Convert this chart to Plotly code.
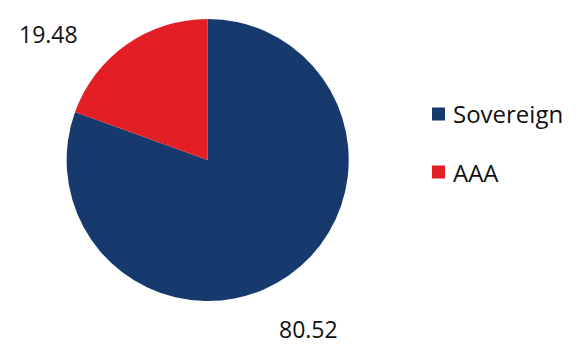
import plotly.graph_objects as go

categories = ["Sovereign", "AAA"]
values = [80.52, 19.48]
colors = ["#173a6e", "#e31e24"]

FONT = "Open Sans"
W, H = 585, 358

# pie geometry (paper fractions)
dom_x = [0.113, 0.597]
dom_y = [0.159, 0.947]

fig = go.Figure(go.Pie(
    labels=categories, values=values, sort=False, direction="clockwise",
    rotation=0, marker=dict(colors=colors, line=dict(width=0)),
    textinfo="none", hoverinfo="label+value", showlegend=False,
    domain=dict(x=dom_x, y=dom_y),
))

annotations = []
shapes = []
# value labels (pixel positions of label centres)
label_pos = [(308, 329), (49, 34)]
for v, (px, py) in zip(values, label_pos):
    annotations.append(dict(x=px / W, y=1 - py / H, xref="paper", yref="paper",
                            text=f"{v:.2f}", showarrow=False,
                            font=dict(family=FONT, size=23, color="#111111"),
                            xanchor="center", yanchor="middle"))

# manual legend
leg_x = 432
leg_y = [114, 172]
for i, name in enumerate(categories):
    shapes.append(dict(type="rect", xref="paper", yref="paper",
                       x0=leg_x / W, x1=(leg_x + 13) / W,
                       y0=1 - (leg_y[i] + 6.5) / H, y1=1 - (leg_y[i] - 6.5) / H,
                       fillcolor=colors[i], line=dict(width=0)))
    annotations.append(dict(x=(leg_x + 19) / W, y=1 - leg_y[i] / H, xref="paper", yref="paper",
                            text=name, showarrow=False, xanchor="left", yanchor="middle",
                            font=dict(family=FONT, size=24, color="#111111")))

fig.update_layout(
    width=W, height=H, margin=dict(l=0, r=0, t=0, b=0),
    paper_bgcolor="white", plot_bgcolor="white",
    annotations=annotations, shapes=shapes, showlegend=False,
)
fig.write_html("out.html")
